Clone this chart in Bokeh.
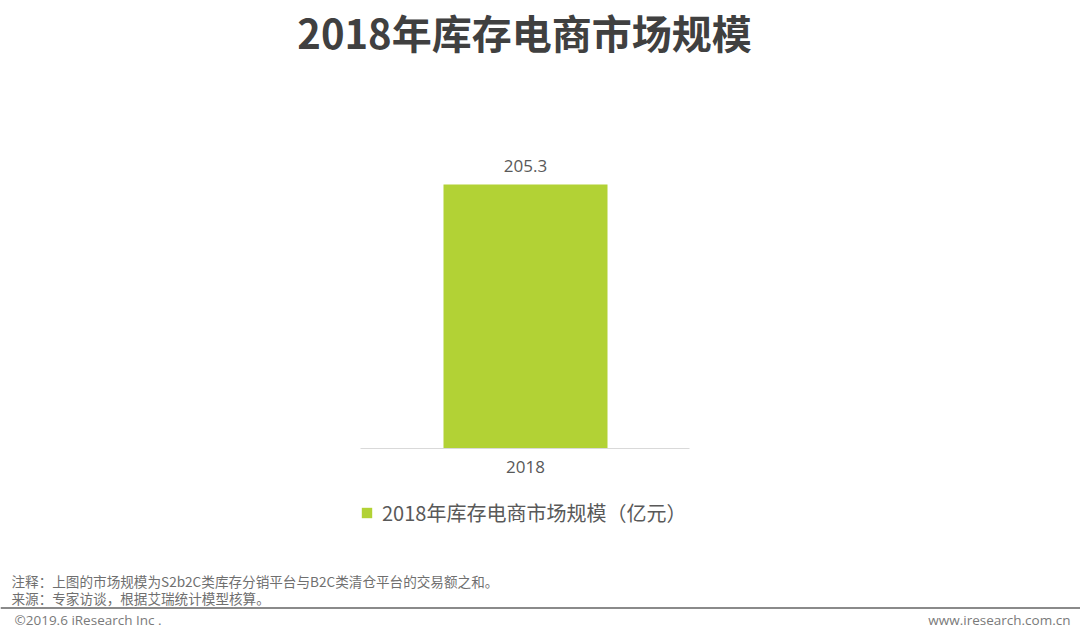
from bokeh.plotting import figure
from bokeh.models import (ColumnDataSource, Range1d, Label, LabelSet, Legend, LegendItem,
                          Span, FixedTicker, LinearAxis)
from bokeh.core.properties import value
from bokeh.embed import file_html
from bokeh.resources import INLINE

# ---- data ----
categories = ["2018"]
market_size = [205.3]
value_labels = ["205.3"]
title_text = "2018年库存电商市场规模"
legend_text = "2018年库存电商市场规模（亿元）"
note_text = "注释：上图的市场规模为S2b2C类库存分销平台与B2C类清仓平台的交易额之和。"
source_text = "来源：专家访谈，根据艾瑞统计模型核算。"
copyright_text = "©2019.6 iResearch Inc ."
website_text = "www.iresearch.com.cn"

CJK = "Noto Sans CJK SC"
BAR = "#b2d235"
GREY = "#595959"
W, H = 1080, 634

xs = list(range(len(categories)))
src = ColumnDataSource(dict(x=xs, val=market_size, lab=value_labels))

# layout: bar centre at px 525, 164 px per category unit; baseline at px 448
PX_UNIT = 164.0
XC = 525.0
BASE = 448.0
KY = (BASE - 184.0) / market_size[0]  # px per value unit (layout scale)

p = figure(width=W, height=H,
           x_range=Range1d(-XC / PX_UNIT, (W - XC) / PX_UNIT),
           y_range=Range1d((BASE - H) / KY, BASE / KY),
           output_backend="svg", toolbar_location=None,
           min_border=0, min_border_left=0, min_border_right=0,
           min_border_top=0, min_border_bottom=0, x_axis_location=None, y_axis_location=None)
p.outline_line_color = None
p.grid.visible = False
p.background_fill_color = "white"
p.border_fill_color = "white"

r = p.vbar(x="x", top="val", width=1.0, source=src, fill_color=BAR, line_color=None)

xa = LinearAxis(fixed_location=0,
                ticker=FixedTicker(ticks=xs),
                major_label_overrides={i: c for i, c in zip(xs, categories)},
                bounds=((360 - XC) / PX_UNIT, (689 - XC) / PX_UNIT))
xa.axis_line_color = "#d9d9d9"
xa.axis_line_width = 1
xa.major_tick_line_color = None
xa.minor_tick_line_color = None
xa.major_tick_out = 0
xa.major_tick_in = 0
xa.major_label_standoff = 12
xa.major_label_text_font = "Open Sans"
xa.major_label_text_font_size = "17px"
xa.major_label_text_color = GREY
p.add_layout(xa, "below")

p.add_layout(LabelSet(x="x", y="val", text="lab", source=src, y_offset=13,
                      text_align="center", text_baseline="bottom",
                      text_font=value("Open Sans"), text_font_size="17px",
                      text_color=GREY))

legend = Legend(items=[LegendItem(label=legend_text, renderers=[r])],
                location=(360, H - 527), orientation="horizontal",
                label_text_font=CJK, label_text_font_size="20px", label_text_color=GREY,
                glyph_width=13, glyph_height=13, border_line_color=None,
                background_fill_alpha=0, padding=4, spacing=0, margin=0,
                label_standoff=9)
p.add_layout(legend, "center")

def lab(x, y, text, size, color, font=CJK, align="left", style="normal"):
    # x, y given in page pixels from top-left
    p.add_layout(Label(x=x, y=H - y, x_units="screen", y_units="screen", text=text,
                       text_font=font, text_font_size=size, text_color=color,
                       text_align=align, text_baseline="middle", text_font_style=style))

lab(524, 31, title_text, "40px", "#404040", align="center", style="bold")
lab(11, 580, note_text, "13.6px", "#6f6f6f")
lab(11, 597, source_text, "13.6px", "#6f6f6f")
lab(14, 619, copyright_text, "13.5px", "#7a7a7a", font="Open Sans")
lab(1070, 619, website_text, "13.5px", "#7a7a7a", font="Open Sans", align="right")

p.add_layout(Span(location=H - 607.5, location_units="screen", dimension="width",
                  line_color="#8a8a8a", line_width=2))

open("out.html", "w").write(file_html(p, INLINE))
